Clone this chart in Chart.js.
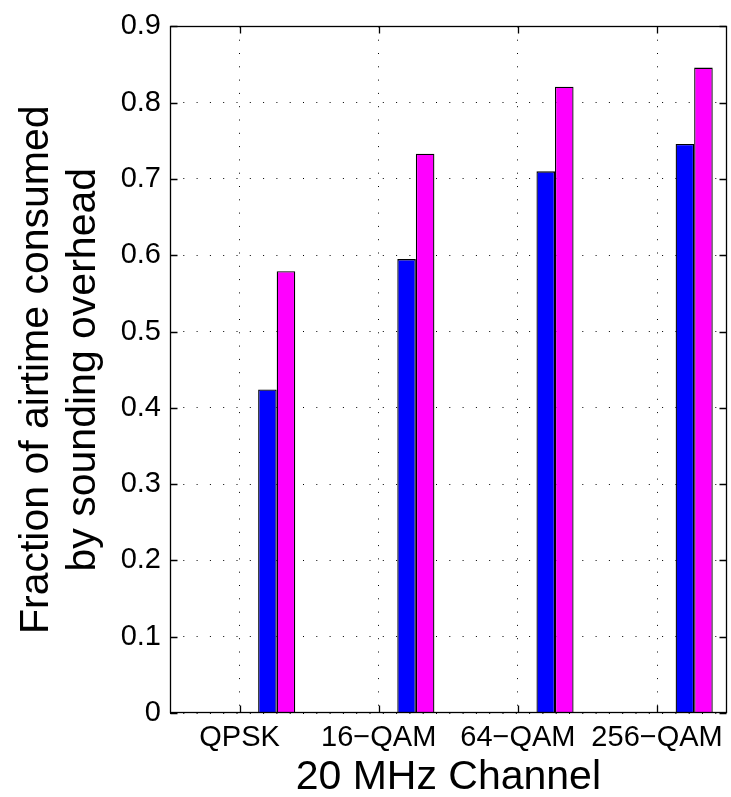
<!DOCTYPE html>
<html>
<head>
<meta charset="utf-8">
<script src="https://cdn.jsdelivr.net/npm/chart.js@4/dist/chart.umd.min.js"></script>
<style>
  html, body { margin: 0; padding: 0; background: #ffffff; }
  #wrap { width: 731px; height: 797px; }
</style>
</head>
<body>
<div id="wrap"><canvas id="c" width="731" height="797"></canvas></div>
<script>
// ---- data ----
const categories = ['QPSK', '16\u2212QAM', '64\u2212QAM', '256\u2212QAM'];
const blueValues = [0.424, 0.595, 0.710, 0.746];
const magentaValues = [0.579, 0.733, 0.821, 0.846];
// four unused series of the grouped bar (MATLAB group of six, only the last two drawn)
const emptyValues = [null, null, null, null];
const yMin = 0, yMax = 0.9, yStep = 0.1;
const xTitle = '20 MHz Channel';
const yTitle = ['Fraction of airtime consumed', 'by sounding overhead'];

const FONT = "'Liberation Sans', Arial, Helvetica, sans-serif";

const boxAndTicks = {
  id: 'boxAndTicks',
  afterDraw(chart) {
    const ctx = chart.ctx;
    const a = chart.chartArea;
    const L = Math.round(a.left) + 0.5, R = Math.round(a.right) - 0.5;
    const T = Math.round(a.top) + 0.5, B = Math.round(a.bottom) - 0.5;
    ctx.save();
    ctx.strokeStyle = '#000';
    ctx.lineWidth = 1.3;
    ctx.setLineDash([]);
    ctx.strokeRect(L, T, R - L, B - T);
    const len = 7;
    ctx.beginPath();
    const ys = chart.scales.y;
    ys.ticks.forEach((t, i) => {
      const p = Math.round(ys.getPixelForTick(i)) + 0.5;
      ctx.moveTo(L, p); ctx.lineTo(L + len, p);
      ctx.moveTo(R, p); ctx.lineTo(R - len, p);
    });
    const xs = chart.scales.x;
    xs.ticks.forEach((t, i) => {
      const p = Math.round(xs.getPixelForTick(i)) + 0.5;
      ctx.moveTo(p, B); ctx.lineTo(p, B - len);
      ctx.moveTo(p, T); ctx.lineTo(p, T + len);
    });
    ctx.stroke();
    ctx.restore();
  }
};

const barStyle = { borderColor: '#000', borderWidth: 1.3, categoryPercentage: 0.8, barPercentage: 1.0 };

new Chart(document.getElementById('c'), {
  type: 'bar',
  data: {
    labels: categories,
    datasets: [
      Object.assign({ label: 's1', data: emptyValues, backgroundColor: '#000080' }, barStyle),
      Object.assign({ label: 's2', data: emptyValues, backgroundColor: '#0000ff' }, barStyle),
      Object.assign({ label: 's3', data: emptyValues, backgroundColor: '#00ffff' }, barStyle),
      Object.assign({ label: 's4', data: emptyValues, backgroundColor: '#ffff00' }, barStyle),
      Object.assign({ label: 'blue', data: blueValues, backgroundColor: '#0000ff' }, barStyle),
      Object.assign({ label: 'magenta', data: magentaValues, backgroundColor: '#ff00ff' }, barStyle)
    ]
  },
  options: {
    responsive: false,
    animation: false,
    devicePixelRatio: 1,
    layout: { padding: { top: 21, right: 2, left: 0, bottom: 0 } },
    plugins: { legend: { display: false }, tooltip: { enabled: false } },
    scales: {
      x: {
        offset: true,
        grid: { offset: false, drawTicks: false, color: '#000', lineWidth: 1 },
        border: { display: false, dash: [1, 12.3] },
        ticks: { color: '#000', font: { family: FONT, size: 29 }, padding: 8, maxRotation: 0, autoSkip: false },
        title: { display: true, text: xTitle, color: '#000', font: { family: FONT, size: 41, lineHeight: 0.9 }, padding: { top: 0, bottom: 1 } },
        afterFit(scale) { scale.height = 84; }
      },
      y: {
        min: yMin, max: yMax,
        grid: { drawTicks: false, color: '#000', lineWidth: 1 },
        border: { display: false, dash: [1, 12.3] },
        ticks: {
          stepSize: yStep, color: '#000', font: { family: FONT, size: 29 }, padding: 9,
          callback: (v) => (Math.abs(v) < 1e-9 ? '0' : v.toFixed(1))
        },
        title: { display: true, text: yTitle, color: '#000', font: { family: FONT, size: 41, lineHeight: 1.15 }, padding: { top: 13, bottom: 0 } },
        afterFit(scale) { scale.width = 170; }
      }
    }
  },
  plugins: [boxAndTicks]
});
</script>
</body>
</html>
